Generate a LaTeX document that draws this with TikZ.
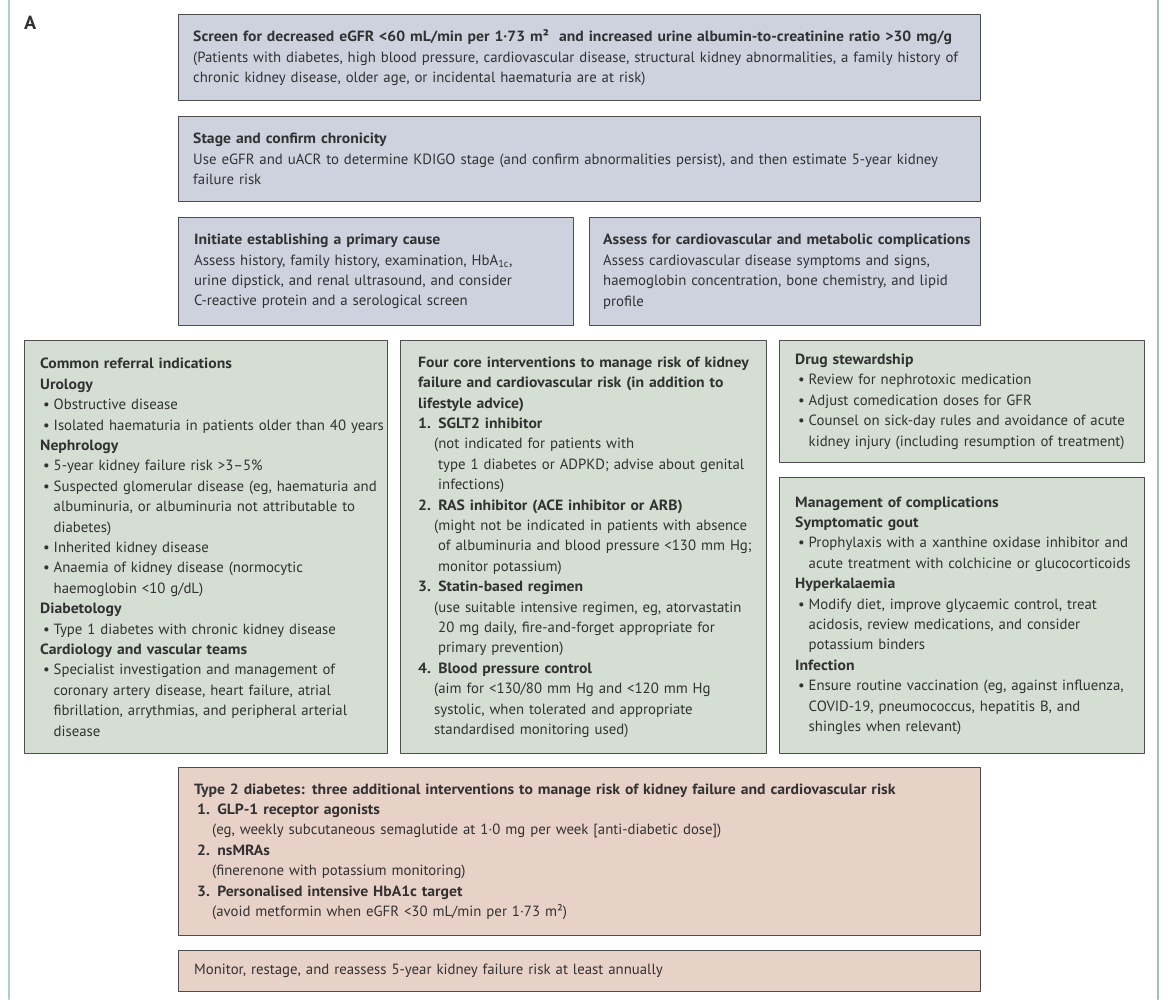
\documentclass[tikz,border=0pt]{standalone}
\usepackage{fontspec}
\setmainfont{PT Sans}[BoldFeatures={FakeStretch=1.06}]
\setlength{\parindent}{0pt}
\definecolor{boxblue}{HTML}{CED2DE}
\definecolor{boxgreen}{HTML}{D4DED3}
\definecolor{boxpink}{HTML}{E8D1C7}
\definecolor{edgegray}{HTML}{4E4E4E}
\definecolor{inkgray}{HTML}{323232}
\definecolor{railleft}{HTML}{A6D2C8}
\definecolor{railright}{HTML}{A8BFB8}
\newcommand{\bul}{\par\leftskip=0pt\hangindent=13.5pt\hangafter=1\leavevmode\hbox to 13.5pt{\hspace{3pt}\textbullet\hfil}}
\newcommand{\numitem}[1]{\par\leftskip=0pt\textbf{#1}}
\newcommand{\detail}[1][4pt]{\par\leftskip=16pt\hangindent=#1\hangafter=1\relax}
\newcommand{\subhead}[1]{\par\leftskip=0pt\textbf{#1}}
\begin{document}
\begin{tikzpicture}[x=1pt, y=-1pt, line cap=round, line join=round,
    panel/.style={draw=edgegray, line width=1.4pt, anchor=north west, inner sep=0pt},
    bluebox/.style={panel, fill=boxblue},
    greenbox/.style={panel, fill=boxgreen},
    pinkbox/.style={panel, fill=boxpink},
    boxtext/.style={anchor=west, align=left, inner sep=0pt, text=inkgray,
      font=\fontsize{14.8}{20.4}\selectfont}]
  \useasboundingbox (0,0) rectangle (1170,999);
  \foreach \xpos/\rail in {9/railleft, 1158/railright} \draw[\rail, line width=2.2pt] (\xpos,0) -- (\xpos,999);
  \node[anchor=north west, inner sep=0pt, text=inkgray, font=\bfseries\fontsize{19}{22}\selectfont] (letter) at (24,16) {A};

  \node[bluebox, minimum width=802, minimum height=86] (screen) at (178,14) {};
  \node[boxtext, text width=780] (screentext) at ([xshift=15]screen.west)
    {\textbf{Screen for decreased eGFR <60 mL/min per 1·73 m²\ \ and increased urine albumin-to-creatinine ratio >30 mg/g}\\
     (Patients with diabetes, high blood pressure, cardiovascular disease, structural kidney abnormalities, a family history of\\
     chronic kidney disease, older age, or incidental haematuria are at risk)};
  \node[bluebox, minimum width=802, minimum height=85] (stage) at (178,116) {};
  \node[boxtext, text width=780] (stagetext) at ([xshift=15]stage.west)
    {\textbf{Stage and confirm chronicity}\\
     Use eGFR and uACR to determine KDIGO stage (and confirm abnormalities persist), and then estimate 5-year kidney\\
     failure risk};
  \node[bluebox, minimum width=395, minimum height=108] (cause) at (178,217) {};
  \node[boxtext, text width=376] (causetext) at ([xshift=16]cause.west)
    {\textbf{Initiate establishing a primary cause}\\
     Assess history, family history, examination, HbA\textsubscript{1c},\\
     urine dipstick, and renal ultrasound, and consider\\
     C-reactive protein and a serological screen};
  \node[bluebox, minimum width=391, minimum height=108] (assess) at (589,217) {};
  \node[boxtext, text width=375] (assesstext) at ([xshift=14]assess.west)
    {\textbf{Assess for cardiovascular and metabolic complications}\\
     Assess cardiovascular disease symptoms and signs,\\
     haemoglobin concentration, bone chemistry, and lipid\\
     profile};

  \node[greenbox, minimum width=363, minimum height=413] (referral) at (24,340) {};
  \node[boxtext, text width=345] (referraltext) at ([xshift=16]referral.west)
    {\textbf{Common referral indications}
     \subhead{Urology}
     \bul Obstructive disease
     \bul Isolated haematuria in patients older than 40 years
     \subhead{Nephrology}
     \bul 5-year kidney failure risk >3–5\%
     \bul Suspected glomerular disease (eg, haematuria and\newline albuminuria, or albuminuria not attributable to\newline diabetes)
     \bul Inherited kidney disease
     \bul Anaemia of kidney disease (normocytic\newline haemoglobin <10 g/dL)
     \subhead{Diabetology}
     \bul Type 1 diabetes with chronic kidney disease
     \subhead{Cardiology and vascular teams}
     \bul Specialist investigation and management of\newline coronary artery disease, heart failure, atrial\newline fibrillation, arrythmias, and peripheral arterial\newline disease\par};
  \node[greenbox, minimum width=366, minimum height=413] (core) at (400,340) {};
  \node[boxtext, text width=346] (coretext) at ([xshift=18]core.west)
    {\textbf{Four core interventions to manage risk of kidney\\failure and cardiovascular risk (in addition to\\lifestyle advice)}
     \numitem{1. SGLT2 inhibitor}
     \detail (not indicated for patients with\newline type 1 diabetes or ADPKD; advise about genital\newline infections)
     \numitem{2. RAS inhibitor (ACE inhibitor or ARB)}
     \detail (might not be indicated in patients with absence\newline of albuminuria and blood pressure <130 mm Hg;\newline monitor potassium)
     \numitem{3. Statin-based regimen}
     \detail (use suitable intensive regimen, eg, atorvastatin\newline 20 mg daily, fire-and-forget appropriate for\newline primary prevention)
     \numitem{4. Blood pressure control}
     \detail[0pt] (aim for <130/80 mm Hg and <120 mm Hg\newline systolic, when tolerated and appropriate\newline standardised monitoring used)\par};
  \node[greenbox, minimum width=365, minimum height=122] (drugs) at (779,340) {};
  \node[boxtext, text width=347] (drugstext) at ([xshift=16]drugs.west)
    {\textbf{Drug stewardship}
     \bul Review for nephrotoxic medication
     \bul Adjust comedication doses for GFR
     \bul Counsel on sick-day rules and avoidance of acute\newline kidney injury (including resumption of treatment)\par};
  \node[greenbox, minimum width=365, minimum height=276] (complic) at (779,477) {};
  \node[boxtext, text width=347] (complictext) at ([xshift=16]complic.west)
    {\textbf{Management of complications}
     \subhead{Symptomatic gout}
     \bul Prophylaxis with a xanthine oxidase inhibitor and\newline acute treatment with colchicine or glucocorticoids
     \subhead{Hyperkalaemia}
     \bul Modify diet, improve glycaemic control, treat\newline acidosis, review medications, and consider\newline potassium binders
     \subhead{Infection}
     \bul Ensure routine vaccination (eg, against influenza,\newline COVID-19, pneumococcus, hepatitis B, and\newline shingles when relevant)\par};

  \node[pinkbox, minimum width=802, minimum height=168] (typetwo) at (178,767) {};
  \node[boxtext, text width=780] (typetwotext) at ([xshift=16]typetwo.west)
    {\textbf{Type 2 diabetes: three additional interventions to manage risk of kidney failure and cardiovascular risk}
     \par\leftskip=3pt\textbf{1. GLP-1 receptor agonists}
     \par\leftskip=18pt (eg, weekly subcutaneous semaglutide at 1·0 mg per week [anti-diabetic dose])
     \par\leftskip=3pt\textbf{2. nsMRAs}
     \par\leftskip=18pt (finerenone with potassium monitoring)
     \par\leftskip=3pt\textbf{3. Personalised intensive HbA1c target}
     \par\leftskip=18pt (avoid metformin when eGFR <30 mL/min per 1·73 m²)\par};
  \node[pinkbox, minimum width=802, minimum height=41] (monitor) at (178,950) {};
  \node[boxtext, text width=780] (monitortext) at ([xshift=16]monitor.west)
    {Monitor, restage, and reassess 5-year kidney failure risk at least annually};
\end{tikzpicture}
\end{document}
